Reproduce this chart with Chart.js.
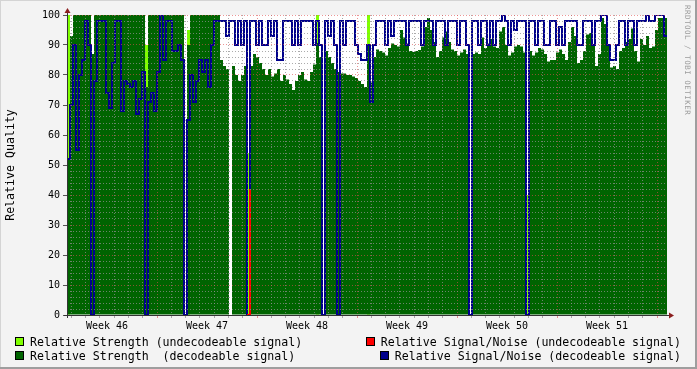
<!DOCTYPE html>
<html>
<head>
<meta charset="utf-8">
<script src="https://cdn.jsdelivr.net/npm/chart.js@4/dist/chart.umd.min.js"></script>
<style>
  html, body { margin:0; padding:0; background:#f3f3f3; }
  #wrap { position:relative; width:697px; height:369px; overflow:hidden; }
  #chart { position:absolute; left:0; top:0; }
  .item { position:absolute; display:flex; align-items:center; height:14px;
          font-family:'DejaVu Sans Mono', monospace; font-size:11.6px; line-height:14px;
          white-space:pre; color:#000; }
  .item .box { width:7px; height:7px; border:1px solid #000; margin-right:6px; }
  #mark { position:absolute; left:682px; top:5px; width:10px; writing-mode:vertical-rl;
          font-family:'DejaVu Sans Mono', monospace; font-size:7.5px; letter-spacing:0.5px;
          line-height:10px; color:#9c9c9c; white-space:pre; }
</style>
</head>
<body>
<div id="wrap">
  <canvas id="chart" width="697" height="369"></canvas>
  <div id="mark">RRDTOOL / TOBI OETIKER</div>
</div>
<script>
const _ = null;

// time axis: days after Monday 00:00 of week 46, one sample every stepDays
const startDay = 0.7;
const stepDays = 0.21;
const weekLabels = ['Week 46', 'Week 47', 'Week 48', 'Week 49', 'Week 50', 'Week 51'];

const seriesLabels = [
  'Relative Strength (undecodeable signal)',
  'Relative Strength  (decodeable signal)',
  'Relative Signal/Noise (undecodeable signal)',
  'Relative Signal/Noise (decodeable signal)'
];

const strengthUndec = [
  100, _, _, _, _, _, _, _, _, _,
  _, _, _, _, _, _, _, _, _, _,
  _, _, _, _, _, _, 90, _, _, _,
  _, _, _, _, _, _, _, _, _, _,
  95, _, _, _, _, _, _, _, _, _,
  _, _, _, _, _, _, _, _, _, _,
  54, _, _, _, _, _, _, _, _, _,
  _, _, _, _, _, _, _, _, _, _,
  _, _, _, 100, _, _, _, _, _, _,
  _, _, _, _, _, _, _, _, _, _,
  100, _, _, _, _, _, _, _, _, _,
  _, _, _, _, _, _, _, _, _, _,
  _, _, _, _, _, _, _, _, _, _,
  _, _, _, _, _, _, _, _, _, _,
  _, _, _, _, _, _, _, _, _, _,
  _, _, _, 40, _, _, _, _, _, _,
  _, _, _, _, _, _, _, _, _, _,
  _, _, _, _, _, _, _, _, _, _,
  _, _, _, _, _, _, _, _, _, _,
  _, _, _, _, _, _, _, _, _, _
];

const strengthDec = [
  52, 93, 100, 100, 100, 100, 100, 100, 87, 100,
  100, 100, 100, 100, 100, 100, 100, 100, 100, 100,
  100, 100, 100, 100, 100, 100, 76, 100, 100, 100,
  100, 100, 100, 100, 100, 100, 100, 100, 100, _,
  90, 100, 100, 100, 100, 100, 100, 100, 100, 100,
  100, 85, 83, 82, _, 83, 80, 78, 80, 83,
  _, 83, 87, 86, 84, 82, 80, 82, 79.5, 80.5,
  82, 78, 80, 78.5, 77, 75, 78, 80, 81, 78.5,
  78, 81, 83.5, 90.7, 86, _, 88, 86, 84, 82,
  81, 80.5, 80.5, 80, 80, 79.5, 79, 78, 77, 76,
  90, 77.5, 86, 88.5, 88, 87.5, 86.5, 89, 90.5, 90,
  89.5, 95, 92.5, 90.5, 88, 87.7, 88, 88.3, 89.5, 96,
  99, 95, 91, 86, 88, 92.5, 94.5, 91, 88.5, 88,
  86.5, 87.5, 88.5, 87, _, 87, 87.5, 87, 92.5, 89,
  90.5, 92, 89.5, 89, 94.5, 96, 90, 86.5, 87.5, 89.5,
  90, 89.5, 87.5, _, 88, 86.5, 87.5, 89, 88.5, 87,
  84.5, 85, 85, 87.5, 88.5, 87, 85, 91, 96, 93,
  84, 85, 88, 93.5, 94, 90, 83, 87, 99, 97,
  90, 82.5, 83, 82, 88, 89, 91, 92, 95.5, 88,
  84.5, 92, 90, 93, 89, 89.5, 95, 99, 99, 99
];

const snUndec = [
  _, _, _, _, _, _, _, _, _, _,
  _, _, _, _, _, _, _, _, _, _,
  _, _, _, _, _, _, _, _, _, _,
  _, _, _, _, _, _, _, _, _, _,
  _, _, _, _, _, _, _, _, _, _,
  _, _, _, _, _, _, _, _, _, _,
  0, 42, _, _, _, _, _, _, _, _,
  _, _, _, _, _, _, _, _, _, _,
  _, _, _, _, _, _, _, _, _, _,
  _, _, _, _, _, _, _, _, _, _,
  _, _, _, _, _, _, _, _, _, _,
  _, _, _, _, _, _, _, _, _, _,
  _, _, _, _, _, _, _, _, _, _,
  _, _, _, _, _, _, _, _, _, _,
  _, _, _, _, _, _, _, _, _, _,
  _, _, _, _, _, _, _, _, _, _,
  _, _, _, _, _, _, _, _, _, _,
  _, _, _, _, _, _, _, _, _, _,
  _, _, _, _, _, _, _, _, _, _,
  _, _, _, _, _, _, _, _, _, _
];

const snDec = [
  52, 70, 90, 55, 80, 85, 98, 90, 0, 78,
  98, 98, 98, 74, 69, 84, 98, 98, 68, 78,
  77, 76, 78, 67, 72, 81, 0, 71, 74, 68,
  81, 100, 85, 98, 98, 88, 88, 90, 85, 0,
  65, 80, 71, 78, 85, 81, 85, 76, 90, 98,
  98, 98, 98, 93, 98, 98, 90, 98, 90, 98,
  0, 98, 98, 90, 98, 90, 90, 98, 93, 98,
  85, 85, 98, 98, 98, 90, 98, 90, 98, 98,
  98, 98, 90, 98, 90, 0, 98, 93, 98, 90,
  0, 98, 90, 98, 98, 98, 90, 87, 85, 85,
  90, 71, 90, 98, 98, 98, 90, 98, 93, 98,
  98, 98, 98, 90, 98, 98, 98, 98, 90, 98,
  98, 98, 90, 98, 98, 98, 90, 98, 98, 98,
  90, 98, 98, 90, 0, 98, 98, 90, 98, 98,
  90, 98, 90, 98, 98, 100, 98, 90, 98, 95,
  98, 98, 98, 0, 98, 98, 90, 98, 98, 90,
  90, 98, 98, 90, 96, 90, 98, 98, 98, 98,
  90, 90, 98, 98, 98, 90, 98, 98, 100, 100,
  90, 85, 85, 90, 98, 98, 90, 98, 98, 90,
  98, 98, 98, 100, 98, 98, 100, 100, 100, 93
];

const colors = ['#80ff00', '#006400', '#ff0000', '#00008b'];
const gridMinor = 'rgba(143,143,143,0.75)';
const gridMajor = 'rgba(222,79,79,0.6)';
const endDay = startDay + stepDays * snDec.length;

// one bar per consolidated sample, centred on its interval
function toBars(values) {
  return values.map((v, i) => ({ x: startDay + stepDays * (i + 0.5), y: v }));
}
// stepped line: each value holds until the next sample
function toSteps(values) {
  const pts = values.map((v, i) => ({ x: startDay + stepDays * i, y: v }));
  pts.push({ x: endDay, y: values[values.length - 1] });
  return pts;
}
function weekIndex(v) {
  const k = (v - 3.5) / 7;
  return Number.isInteger(k) ? k : -1;
}

const decor = {
  id: 'decor',
  beforeDraw(chart) {
    const { ctx, chartArea: a, width, height } = chart;
    ctx.save();
    ctx.fillStyle = '#f3f3f3';
    ctx.fillRect(0, 0, width, height);
    ctx.fillStyle = '#d4d4d4';
    ctx.fillRect(0, 0, width, 1);
    ctx.fillRect(0, 0, 1, height);
    ctx.fillStyle = '#9e9e9e';
    ctx.fillRect(0, height - 2, width, 2);
    ctx.fillRect(width - 2, 0, 2, height);
    ctx.fillStyle = '#ffffff';
    ctx.fillRect(a.left, a.top, a.right - a.left, a.bottom - a.top);
    ctx.restore();
  },
  afterDraw(chart) {
    const { ctx, chartArea: a } = chart;
    ctx.save();
    ctx.fillStyle = '#333333';
    ctx.fillRect(a.left - 3, a.bottom, a.right - a.left + 5, 1);
    ctx.fillRect(a.left, a.top - 2, 1, a.bottom - a.top + 5);
    ctx.fillStyle = '#8b1e1e';
    ctx.beginPath();
    ctx.moveTo(a.left + 0.5, a.top - 7);
    ctx.lineTo(a.left - 2.5, a.top - 2);
    ctx.lineTo(a.left + 3.5, a.top - 2);
    ctx.closePath();
    ctx.fill();
    ctx.beginPath();
    ctx.moveTo(a.right + 7, a.bottom + 0.5);
    ctx.lineTo(a.right + 2, a.bottom - 2.5);
    ctx.lineTo(a.right + 2, a.bottom + 3.5);
    ctx.closePath();
    ctx.fill();
    ctx.restore();
  }
};

Chart.defaults.font.family = "'DejaVu Sans Mono', monospace";

new Chart(document.getElementById('chart'), {
  type: 'bar',
  data: {
    datasets: [
      { type: 'line', label: seriesLabels[2], data: toSteps(snUndec), borderColor: colors[2],
        borderWidth: 2, stepped: true, pointRadius: 0, fill: false, order: 0 },
      { type: 'line', label: seriesLabels[3], data: toSteps(snDec), borderColor: colors[3],
        borderWidth: 2, stepped: true, pointRadius: 0, fill: false, order: 1 },
      { type: 'bar', label: seriesLabels[1], data: toBars(strengthDec), backgroundColor: colors[1],
        borderWidth: 0, grouped: false, barPercentage: 1, categoryPercentage: 1, inflateAmount: 0, order: 2 },
      { type: 'bar', label: seriesLabels[0], data: toBars(strengthUndec), backgroundColor: colors[0],
        borderWidth: 0, grouped: false, barPercentage: 1, categoryPercentage: 1, inflateAmount: 0, order: 3 }
    ]
  },
  options: {
    responsive: false,
    animation: false,
    events: [],
    layout: { padding: { left: 0, top: 15, right: 30, bottom: 34 } },
    plugins: { legend: { display: false }, tooltip: { enabled: false } },
    scales: {
      x: {
        type: 'linear', min: startDay, max: endDay, offset: false,
        afterBuildTicks(scale) {
          const t = [];
          for (let d = 1; d < endDay; d++) t.push({ value: d });
          weekLabels.forEach((w, k) => t.push({ value: 3.5 + 7 * k }));
          t.sort((p, q) => p.value - q.value);
          scale.ticks = t;
        },
        afterFit(scale) { scale.height = 20; },
        grid: {
          z: 1, offset: false, lineWidth: 1, tickLength: 3,
          color: c => weekIndex(c.tick.value) >= 0 ? 'rgba(0,0,0,0)' : (c.tick.value % 7 === 0 ? gridMajor : gridMinor),
          tickColor: c => weekIndex(c.tick.value) >= 0 ? 'rgba(0,0,0,0)' : (c.tick.value % 7 === 0 ? gridMajor : gridMinor)
        },
        border: { display: false, dash: [1, 2] },
        ticks: {
          autoSkip: false, maxRotation: 0, minRotation: 0, padding: 2, color: '#000',
          font: { size: 10 },
          callback: v => { const k = weekIndex(v); return k >= 0 ? weekLabels[k] : ''; }
        }
      },
      y: {
        min: 0, max: 100,
        afterFit(scale) { scale.width = 67; },
        grid: {
          z: 1, lineWidth: 1, tickLength: 4,
          color: c => c.tick.value % 10 === 0 ? gridMajor : gridMinor,
          tickColor: c => c.tick.value % 10 === 0 ? '#555' : 'rgba(0,0,0,0)'
        },
        border: { display: false, dash: [1, 2] },
        ticks: {
          stepSize: 2, autoSkip: false, padding: 3, color: '#000', font: { size: 10 },
          callback: v => v % 10 === 0 ? String(v) : ''
        },
        title: {
          display: true, text: 'Relative Quality', color: '#000',
          font: { size: 11.6 }, padding: { top: 4.5, bottom: 0 }
        }
      }
    }
  },
  plugins: [decor]
});

// legend: strength entries on the left, signal/noise entries right-aligned
const wrap = document.getElementById('wrap');
const slots = [
  { left: '15px', top: '334.5px' }, { left: '15px', top: '348.5px' },
  { right: '16px', top: '334.5px' }, { right: '16px', top: '348.5px' }
];
seriesLabels.forEach((label, i) => {
  const el = document.createElement('div');
  el.className = 'item';
  Object.assign(el.style, slots[i]);
  const box = document.createElement('span');
  box.className = 'box';
  box.style.background = colors[i];
  const txt = document.createElement('span');
  txt.textContent = label;
  el.appendChild(box);
  el.appendChild(txt);
  wrap.appendChild(el);
});
</script>
</body>
</html>
